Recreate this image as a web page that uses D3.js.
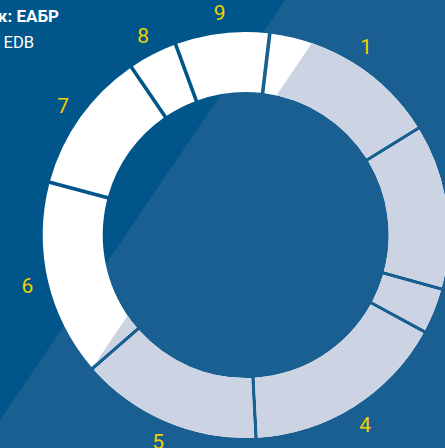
<!DOCTYPE html>
<html><head><meta charset="utf-8">
<script src="https://cdn.jsdelivr.net/npm/d3@7"></script>
<style>html,body{margin:0;padding:0;background:#00558a;overflow:hidden}</style>
</head><body>
<script>
// Data
const categories = ["1","2","3","4","5","6","7","8","9"];
const values = [14.3, 13.1, 3.6, 16.3, 14.4, 15.6, 11.3, 3.9, 7.5];
const sourceLines = ["Источник: ЕАБР", "Source: EDB"];

const W = 445, H = 448;
const cx = 245.7, cy = 235, rOuter = 203, rInner = 143, rLabel = 224;
const startDeg = 6.8;

const svg = d3.select("body").append("svg").attr("width", W).attr("height", H);
const defs = svg.append("defs");

// backgrounds
svg.append("rect").attr("width", W).attr("height", H).attr("fill", "#00558a");
svg.append("polygon").attr("points", `285,0 ${W},0 ${W},${H} 0,${H} 0,420`).attr("fill", "#195f91");

// clip for light part of the ring (parallel to background diagonal, offset)
const slope = (341 - 57) / 420;
defs.append("clipPath").attr("id", "ringClip").append("polygon")
  .attr("points", `341,0 ${W+300},0 ${W+300},${H+300} ${341 - slope*(H+300)},${H+300}`);

const pie = d3.pie().sort(null).value(d => d)
  .startAngle(startDeg * Math.PI / 180)
  .endAngle(startDeg * Math.PI / 180 + 2 * Math.PI);
const arcs = pie(values);
const arc = d3.arc().innerRadius(rInner).outerRadius(rOuter)
  .padRadius(200).padAngle(3.6 / 200);

const g = svg.append("g").attr("transform", `translate(${cx},${cy})`);
g.selectAll("path.w").data(arcs).join("path").attr("class", "w")
  .attr("d", arc).attr("fill", "#ffffff");

const g2 = svg.append("g").attr("clip-path", "url(#ringClip)")
  .append("g").attr("transform", `translate(${cx},${cy})`);
g2.selectAll("path.l").data(arcs).join("path").attr("class", "l")
  .attr("d", arc).attr("fill", "#ccd4e3");

// labels
const labelArc = d3.arc().innerRadius(rLabel).outerRadius(rLabel);
g.selectAll("text.lab").data(arcs).join("text").attr("class", "lab")
  .attr("transform", d => `translate(${labelArc.centroid(d)})`)
  .attr("text-anchor", "middle").attr("dy", "0.36em")
  .attr("fill", "#f0d000")
  .style("font-family", "Roboto, 'Open Sans', sans-serif")
  .style("font-weight", 400)
  .style("font-size", "21px")
  .text((d, i) => categories[i]);

// source text
svg.append("text").attr("x", 59).attr("y", 21.5).attr("text-anchor", "end")
  .attr("fill", "#fff")
  .style("font-family", "Roboto, sans-serif")
  .style("font-weight", "bold").style("font-size", "17px")
  .text(sourceLines[0]);
svg.append("text").attr("x", 34).attr("y", 48.3).attr("text-anchor", "end")
  .attr("fill", "#fff")
  .style("font-family", "Roboto, sans-serif")
  .style("font-size", "16.5px")
  .text(sourceLines[1]);
</script>
</body></html>
